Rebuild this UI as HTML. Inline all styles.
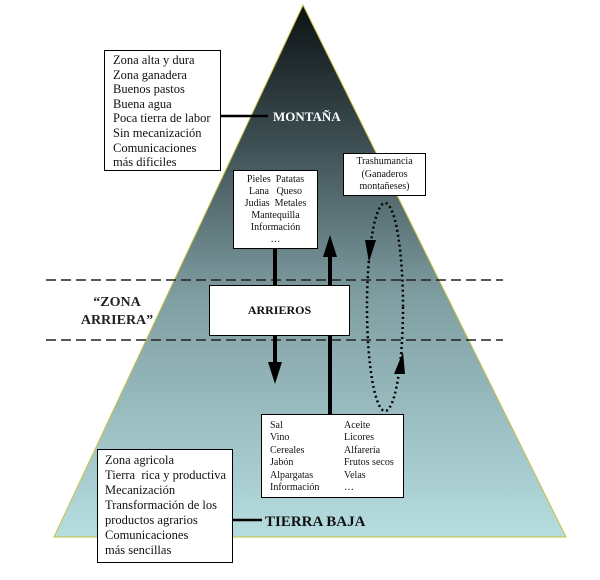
<!DOCTYPE html>
<html><head><meta charset="utf-8"><style>
body{margin:0;background:#fff;width:600px;height:580px;overflow:hidden;font-family:"Liberation Serif",serif}
svg{position:absolute;left:0;top:0}
.box{position:absolute;background:#fff;border:1px solid #000;color:#111;box-sizing:border-box;overflow:hidden}
</style></head><body>
<svg width="600" height="580">
<defs><linearGradient id="g" x1="0" y1="0" x2="0" y2="1">
<stop offset="0" stop-color="#0c1214"/><stop offset="0.25" stop-color="#3b4c50"/>
<stop offset="0.55" stop-color="#7f9ea2"/><stop offset="1" stop-color="#b6dde0"/></linearGradient></defs>
<polygon points="303,5 54,537 566,537" fill="url(#g)" stroke="#c8c040" stroke-width="1"/>
<line x1="46" y1="280" x2="503" y2="280" stroke="#222" stroke-width="1.6" stroke-dasharray="10,5"/>
<line x1="46" y1="340" x2="503" y2="340" stroke="#222" stroke-width="1.6" stroke-dasharray="10,5"/>
<line x1="220" y1="116" x2="268" y2="116" stroke="#000" stroke-width="2.5"/>
<line x1="232" y1="520" x2="262" y2="520" stroke="#000" stroke-width="2.5"/>
<line x1="275" y1="248" x2="275" y2="365" stroke="#000" stroke-width="4"/>
<polygon points="268,362 282,362 275,384" fill="#000"/>
<line x1="330" y1="415" x2="330" y2="255" stroke="#000" stroke-width="4"/>
<polygon points="323,257 337,257 330,235" fill="#000"/>
<ellipse cx="385" cy="307" rx="18" ry="104" fill="none" stroke="#000" stroke-width="2.5" stroke-dasharray="2,3"/>
<polygon points="365,240 376,240 369,262" fill="#000"/>
<polygon points="394,374 405,374 403,352" fill="#000"/>
<text x="273" y="121" fill="#fff" font-family="Liberation Serif" font-weight="bold" font-size="13">MONTAÑA</text>
<text x="265" y="526" fill="#111" font-family="Liberation Serif" font-weight="bold" font-size="15">TIERRA BAJA</text>
<text x="117" y="306" text-anchor="middle" fill="#222" font-family="Liberation Serif" font-weight="bold" font-size="14">“ZONA</text>
<text x="117" y="324" text-anchor="middle" fill="#222" font-family="Liberation Serif" font-weight="bold" font-size="14">ARRIERA”</text>
</svg>
<div class="box" style="left:104px;top:50px;width:117px;height:121px;font-size:12.5px;line-height:14.6px;padding:2px 0 0 8px">Zona alta y dura<br>Zona ganadera<br>Buenos pastos<br>Buena agua<br>Poca tierra de labor<br>Sin mecanización<br>Comunicaciones<br>más dificiles</div>
<div class="box" style="left:233px;top:170px;width:85px;height:79px;font-size:10px;line-height:12px;text-align:center;padding-top:3px">Pieles&nbsp; Patatas<br>Lana&nbsp;&nbsp; Queso<br>Judias&nbsp; Metales<br>Mantequilla<br>Información<br>…</div>
<div class="box" style="left:343px;top:153px;width:83px;height:43px;font-size:10px;line-height:12.5px;text-align:center;padding-top:2px">Trashumancia<br>(Ganaderos<br>montañeses)</div>
<div class="box" style="left:209px;top:285px;width:141px;height:51px;font-size:12px;font-weight:bold;text-align:center;line-height:49px">ARRIEROS</div>
<div class="box" style="left:261px;top:414px;width:143px;height:84px;font-size:10px;line-height:12.4px;padding:5px 0 0 8px"><div style="float:left;width:74px">Sal<br>Vino<br>Cereales<br>Jabón<br>Alpargatas<br>Información</div><div style="float:left">Aceite<br>Licores<br>Alfarería<br>Frutos secos<br>Velas<br>…</div></div>
<div class="box" style="left:97px;top:449px;width:136px;height:114px;font-size:12.5px;line-height:15px;padding:3px 0 0 7px">Zona agricola<br>Tierra&nbsp; rica y productiva<br>Mecanización<br>Transformación de los<br>productos agrarios<br>Comunicaciones<br>más sencillas</div>
</body></html>
